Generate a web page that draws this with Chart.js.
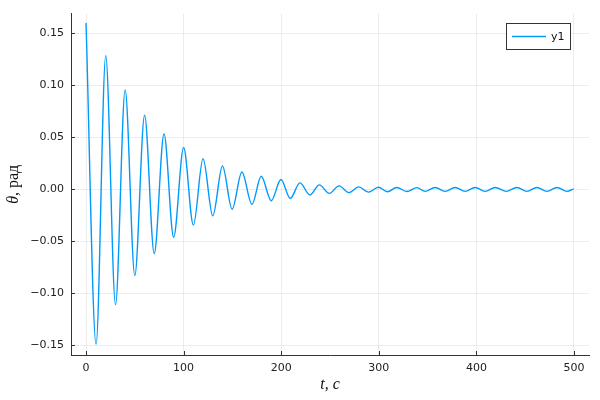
<!DOCTYPE html>
<html>
<head>
<meta charset="utf-8">
<script src="https://cdn.jsdelivr.net/npm/chart.js@4.4.1/dist/chart.umd.min.js"></script>
<style>
  html, body { margin: 0; padding: 0; background: #fff; }
</style>
</head>
<body>
<canvas id="pendulum" width="600" height="400"></canvas>
<script>
// DATA: extrema (t in s, theta in rad)
const seriesName = 'y1';
const tValues = [
  0, 10.3, 20.2, 30.2, 40.1, 50, 60, 69.9, 79.9, 89.8,
  100, 110, 119.9, 129.9, 139.8, 149.7, 159.7, 170, 179.5, 189.8,
  199.7, 209.3, 219.2, 229.5, 239, 249.3, 259.2, 269.5, 279.4, 289.3,
  299.6, 308.8, 318.4, 328.7, 339, 347.5, 357.7, 368, 378.2, 388.5,
  398.7, 409, 419.3, 430.6, 441.5, 451.8, 462, 472.3, 482.6, 492.8, 499.6
];
const thetaValues = [
  0.160, -0.149, 0.1285, -0.1108, 0.0957, -0.0828, 0.0714, -0.0616, 0.0533, -0.0460,
  0.0403, -0.0343, 0.0295, -0.0254, 0.0225, -0.0190, 0.0168, -0.0143, 0.0127, -0.0108,
  0.0095, -0.0086, 0.0063, -0.0054, 0.0044, -0.0038, 0.0034, -0.0031, 0.0025, -0.0026,
  0.0021, -0.0022, 0.0019, -0.0020, 0.0018, -0.0019, 0.0019, -0.0019, 0.0019, -0.0019,
  0.0019, -0.0019, 0.0019, -0.0019, 0.0019, -0.0019, 0.0019, -0.0019, 0.0019, -0.0019, 0.0005
];
const xTickStep = 100;
const yTickStep = 0.05;

const points = tValues.map((t, i) => ({ x: t, y: thetaValues[i] }));

const lineColor = '#009AFA';
const axisColor = '#333';
const tickFont = { family: 'DejaVu Sans', size: 11 };

function fmtY(v) {
  if (Math.abs(v) < 1e-9) return '0.00';
  return v.toFixed(2).replace('-', '\u2212');
}

// inward tick marks, axis titles and boxed legend (Plots.jl look)
const extras = {
  id: 'extras',
  afterDraw(chart) {
    const ctx = chart.ctx;
    const a = chart.chartArea;
    const xs = chart.scales.x, ys = chart.scales.y;
    ctx.save();
    ctx.strokeStyle = axisColor;
    ctx.lineWidth = 1;
    ctx.beginPath();
    xs.ticks.forEach(tk => {
      const px = Math.round(xs.getPixelForValue(tk.value)) + 0.5;
      ctx.moveTo(px, a.bottom);
      ctx.lineTo(px, a.bottom - 4);
    });
    ys.ticks.forEach(tk => {
      const py = Math.round(ys.getPixelForValue(tk.value)) + 0.5;
      ctx.moveTo(a.left, py);
      ctx.lineTo(a.left + 4, py);
    });
    ctx.stroke();

    // x title
    ctx.fillStyle = '#111';
    ctx.font = 'italic 16px "Liberation Serif"';
    ctx.textAlign = 'center';
    ctx.textBaseline = 'middle';
    ctx.fillText('t, c', (a.left + a.right) / 2, 385);

    // y title: italic theta, upright unit
    ctx.translate(14, (a.top + a.bottom) / 2);
    ctx.rotate(-Math.PI / 2);
    const fi = 'italic 16px "Liberation Serif"', fn = '16px "Liberation Serif"';
    ctx.font = fi; const w1 = ctx.measureText('\u03B8').width;
    ctx.font = fn; const w2 = ctx.measureText(', рад').width;
    ctx.textAlign = 'left';
    ctx.font = fi; ctx.fillText('\u03B8', -(w1 + w2) / 2, 0);
    ctx.font = fn; ctx.fillText(', рад', -(w1 + w2) / 2 + w1, 0);
    ctx.restore();

    // legend
    ctx.save();
    const bx = 506.5, by = 23.5, bw = 64, bh = 26;
    ctx.fillStyle = '#fff';
    ctx.fillRect(bx, by, bw, bh);
    ctx.strokeStyle = axisColor;
    ctx.lineWidth = 1;
    ctx.strokeRect(bx, by, bw, bh);
    ctx.strokeStyle = lineColor;
    ctx.lineWidth = 1.4;
    ctx.beginPath();
    ctx.moveTo(512, by + bh / 2);
    ctx.lineTo(546, by + bh / 2);
    ctx.stroke();
    ctx.fillStyle = '#111';
    ctx.font = '11px "DejaVu Sans"';
    ctx.textBaseline = 'middle';
    ctx.fillText(chart.data.datasets[0].label, 551, by + bh / 2 + 0.5);
    ctx.restore();
  }
};

const ctx = document.getElementById('pendulum');

const myChart = new Chart(ctx, {
  type: 'line',
  data: {
    datasets: [{
      label: seriesName,
      data: points,
      borderColor: lineColor,
      borderWidth: 1.4,
      pointRadius: 0,
      fill: false,
      cubicInterpolationMode: 'monotone'
    }]
  },
  options: {
    responsive: false,
    animation: false,
    devicePixelRatio: 1,
    layout: { padding: { left: 0, right: 11, top: 12, bottom: 0 } },
    plugins: { legend: { display: false }, tooltip: { enabled: false } },
    scales: {
      x: {
        type: 'linear',
        min: -15.4,
        max: 515.4,
        afterFit(scale) { scale.height = 45; },
        grid: { color: 'rgba(0,0,0,0.07)', drawTicks: false },
        border: { display: true, color: axisColor, width: 1 },
        ticks: {
          stepSize: xTickStep,
          includeBounds: false,
          padding: 7,
          color: '#222',
          font: tickFont,
          maxRotation: 0
        }
      },
      y: {
        min: -0.1592,
        max: 0.1691,
        afterFit(scale) { scale.width = 71; },
        grid: { color: 'rgba(0,0,0,0.07)', drawTicks: false },
        border: { display: true, color: axisColor, width: 1 },
        ticks: {
          stepSize: yTickStep,
          includeBounds: false,
          padding: 7,
          color: '#222',
          font: tickFont,
          callback: v => fmtY(v)
        }
      }
    }
  },
  plugins: [extras]
});
</script>
</body>
</html>
